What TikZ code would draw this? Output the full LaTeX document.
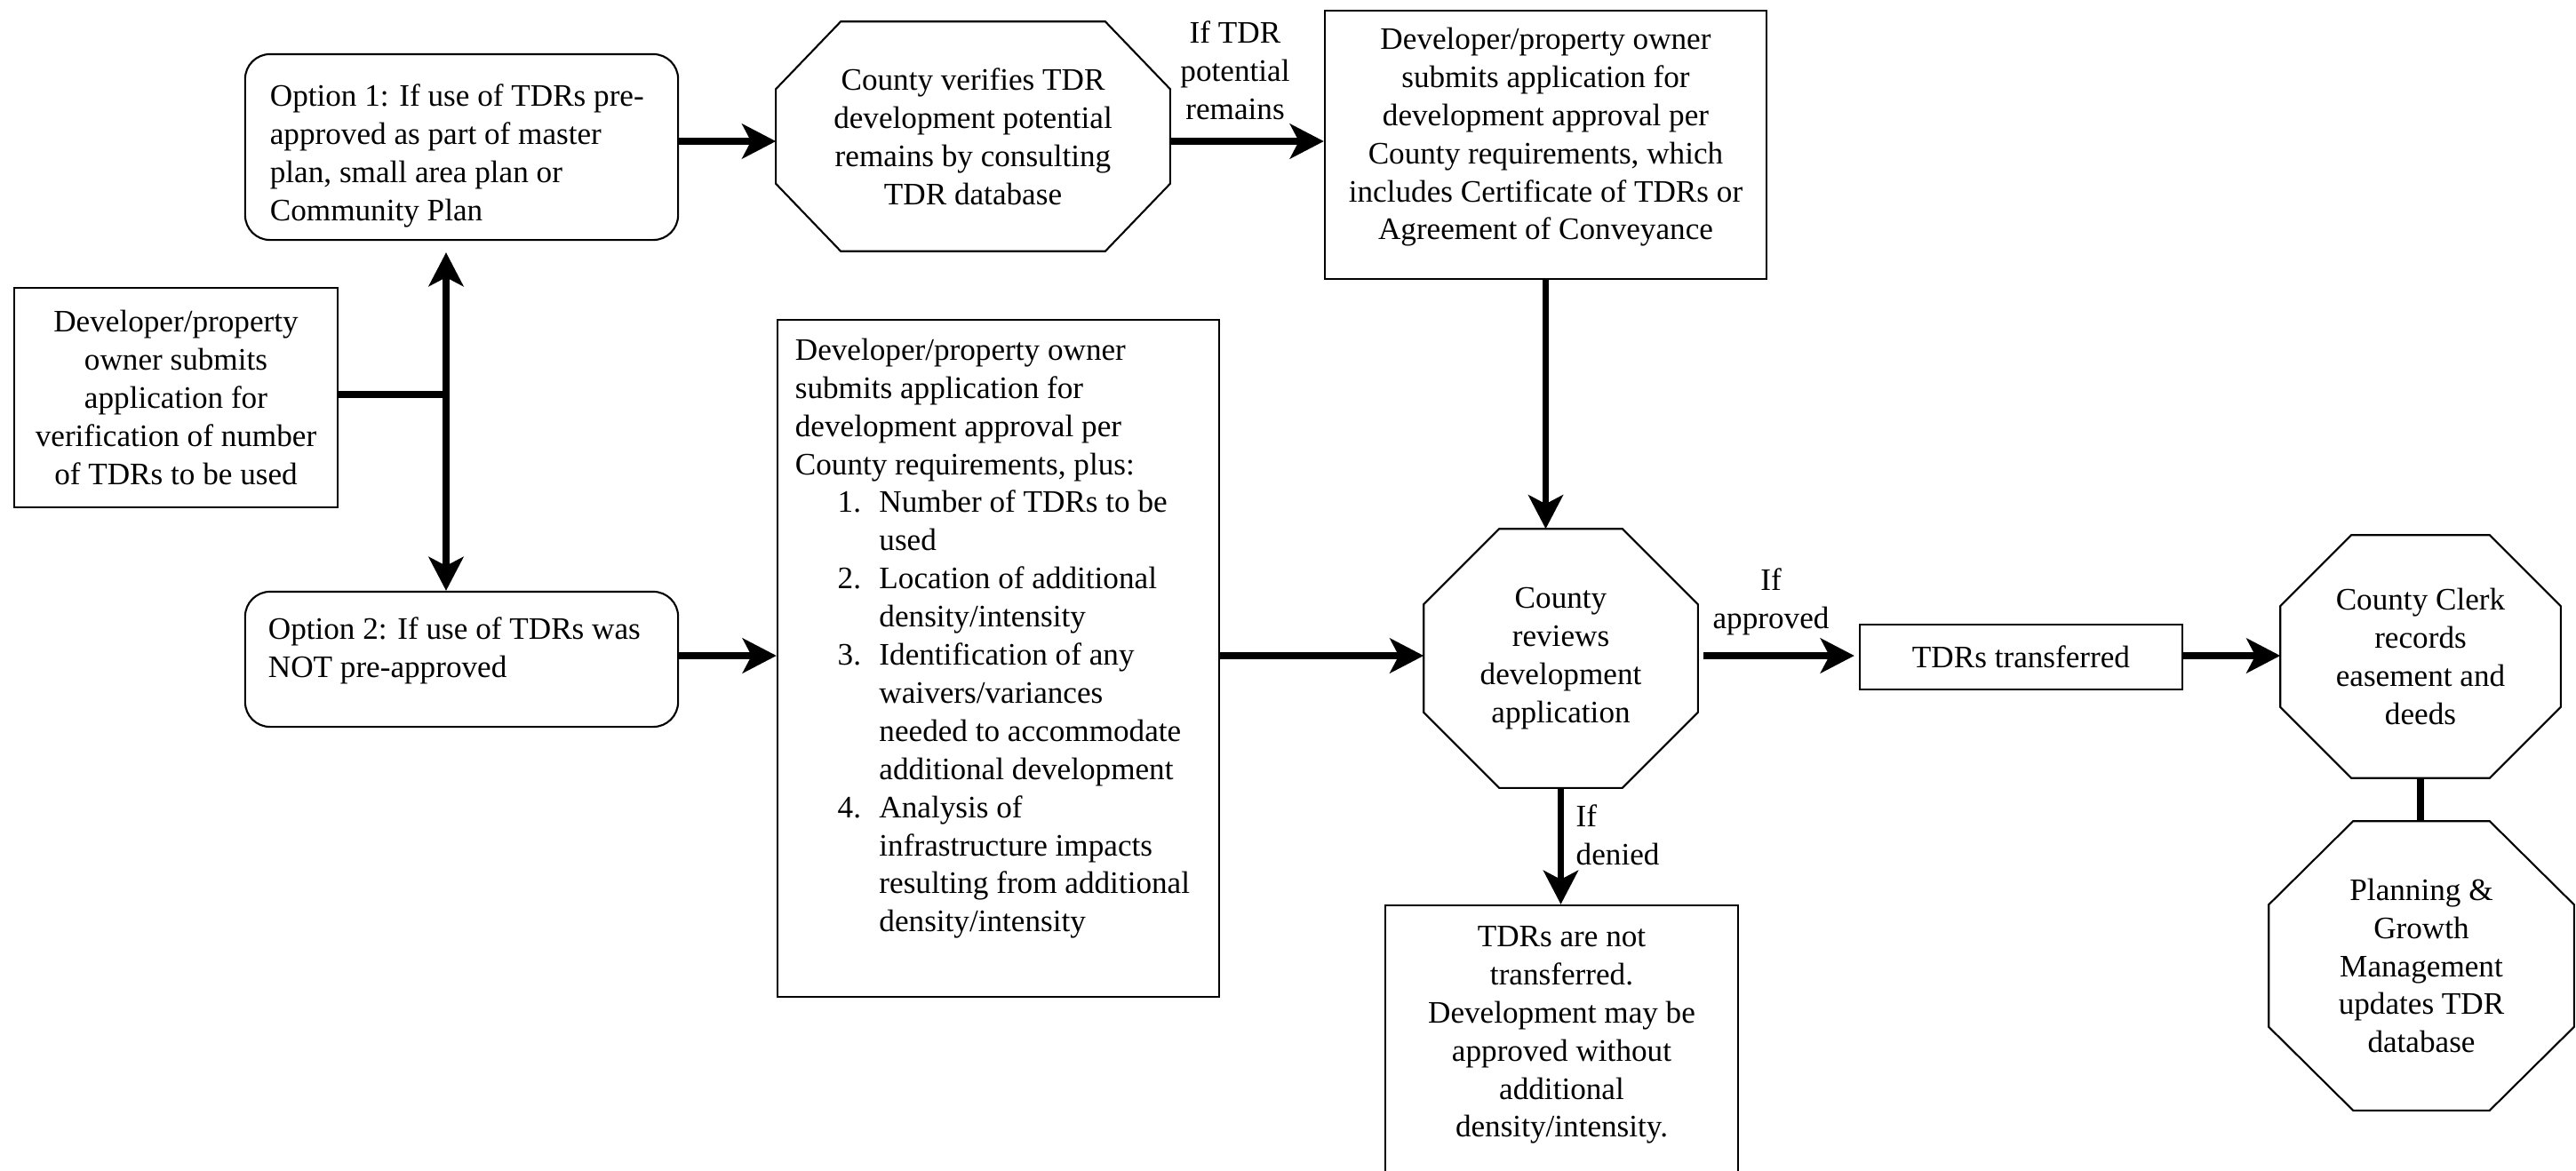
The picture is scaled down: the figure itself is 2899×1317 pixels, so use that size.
\documentclass[tikz,border=0pt]{standalone}
\usepackage{fontspec}
\setmainfont{Liberation Serif}
\usetikzlibrary{arrows.meta,calc}
\newcommand\tbox[5]{\parbox[c][#1][t]{#2}{\fontsize{10}{12.2}\selectfont#4\vspace*{#3}\strut#5}}
\newcommand\litem[1]{\hspace*{13.6pt}\makebox[13.3pt][l]{#1}}
\newcommand\lcont{\hspace*{26.9pt}}
\newcommand\octo[3]{\draw[bline] ($(#1.north west)+(#2,0)$) -- ($(#1.north east)+(-#2,0)$) -- ($(#1.north east)+(0,#3)$) -- ($(#1.south east)+(0,-#3)$) -- ($(#1.south east)+(-#2,0)$) -- ($(#1.south west)+(#2,0)$) -- ($(#1.south west)+(0,-#3)$) -- ($(#1.north west)+(0,#3)$) -- cycle;}
\begin{document}
\begin{tikzpicture}[x=0.01cm, y=-0.01cm,
  font=\fontsize{10}{12.2}\selectfont,
  bline/.style={draw, line width=0.6pt, line join=miter},
  sbox/.style={bline, rectangle, inner sep=0pt},
  onode/.style={rectangle, inner sep=0pt, align=center},
  lbl/.style={inner sep=0pt},
  aline/.style={line width=0.075cm, -{Stealth[length=0.38cm,width=0.39cm,inset=0.1cm]}},
  pline/.style={line width=0.075cm}]
\useasboundingbox (0,0) rectangle (2899,1317);
\clip (0,0) rectangle (2899,1317);
\fill[white] (0,0) rectangle (2899,1317);

% boxes
\node[sbox, minimum width=4.87cm, minimum height=2.09cm, rounded corners=0.28cm] (opt1) at (519.5,165.5)
  {\tbox{2.09cm}{4.31cm}{0.285cm}{\raggedright}{Option 1: If use of TDRs pre-\\approved as part of master\\plan, small area plan or\\Community Plan}};
\node[sbox, minimum width=4.87cm, minimum height=1.52cm, rounded corners=0.28cm] (opt2) at (519.5,742)
  {\tbox{1.52cm}{4.35cm}{0.235cm}{\raggedright}{Option 2: If use of TDRs was\\NOT pre-approved}};
\node[sbox, minimum width=3.64cm, minimum height=2.47cm, align=center] (dev1) at (198,447.5)
  {Developer/property\\owner submits\\application for\\verification of number\\of TDRs to be used};
\node[sbox, minimum width=4.97cm, minimum height=7.62cm] (dev3) at (1123.5,741)
  {\tbox{7.62cm}{4.57cm}{0.155cm}{\raggedright}{Developer/property owner\\submits application for\\development approval per\\County requirements, plus:\\\litem{1.}Number of TDRs to be\\\lcont used\\\litem{2.}Location of additional\\\lcont density/intensity\\\litem{3.}Identification of any\\\lcont waivers/variances\\\lcont needed to accommodate\\\lcont additional development\\\litem{4.}Analysis of\\\lcont infrastructure impacts\\\lcont resulting from additional\\\lcont density/intensity}};
\node[sbox, minimum width=4.97cm, minimum height=3.02cm] (dev2) at (1739.5,163)
  {\tbox{3.02cm}{4.7cm}{0.135cm}{\centering}{Developer/property owner\\submits application for\\development approval per\\County requirements, which\\includes Certificate of TDRs or\\Agreement of Conveyance}};
\node[sbox, minimum width=3.97cm, minimum height=3.21cm] (notx) at (1757.5,1179.5)
  {\tbox{3.21cm}{3.8cm}{0.165cm}{\centering}{TDRs are not\\transferred.\\Development may be\\approved without\\additional\\density/intensity.}};
\node[sbox, minimum width=3.63cm, minimum height=0.73cm] (tdrt) at (2274.5,739.5) {TDRs transferred};

% octagons
\node[onode, minimum width=4.42cm, minimum height=2.57cm] (oct1) at (1095,153.5)
  {County verifies TDR\\development potential\\remains by consulting\\TDR database};
\octo{oct1}{73}{76}
\node[onode, minimum width=3.07cm, minimum height=2.90cm] (oct2) at (1756.5,741)
  {County\\reviews\\development\\application};
\octo{oct2}{85}{85}
\node[onode, minimum width=3.14cm, minimum height=2.72cm] (oct3) at (2724,739)
  {County Clerk\\records\\easement and\\deeds};
\octo{oct3}{80}{80}
\node[onode, minimum width=3.42cm, minimum height=3.24cm] (oct4) at (2725,1087)
  {Planning \&\\Growth\\Management\\updates TDR\\database};
\octo{oct4}{95}{94}

% labels
\node[lbl, align=center] (l1) at (1390,79) {If TDR\\potential\\remains};
\node[lbl, align=center] (l2) at (1993,677) {If\\approved};
\node[lbl, align=left, anchor=west] (l3) at (1773,940) {If\\denied};

% connectors
\coordinate (r1) at (0,159);
\coordinate (r2) at (0,738);
\coordinate (J) at (502,444);
\draw[aline] (opt1.east |- r1) -- (oct1.west |- r1);
\draw[aline] (oct1.east |- r1) -- (dev2.west |- r1);
\draw[pline] (dev1.east |- J) -- (J);
\draw[aline, shorten >=0.13cm] (J) -- (J |- opt1.south);
\draw[aline] (J) -- (J |- opt2.north);
\draw[aline] (opt2.east |- r2) -- (dev3.west |- r2);
\draw[aline] (dev3.east |- r2) -- (oct2.west |- r2);
\draw[aline] (dev2.south) -- (dev2.south |- oct2.north);
\draw[aline, shorten <=0.06cm, shorten >=0.05cm] (oct2.east |- r2) -- (tdrt.west |- r2);
\draw[aline] (tdrt.east |- r2) -- (oct3.west |- r2);
\draw[aline] (oct2.south) -- (oct2.south |- notx.north);
\draw[pline] (oct3.south) -- (oct3.south |- oct4.north);
\end{tikzpicture}
\end{document}
